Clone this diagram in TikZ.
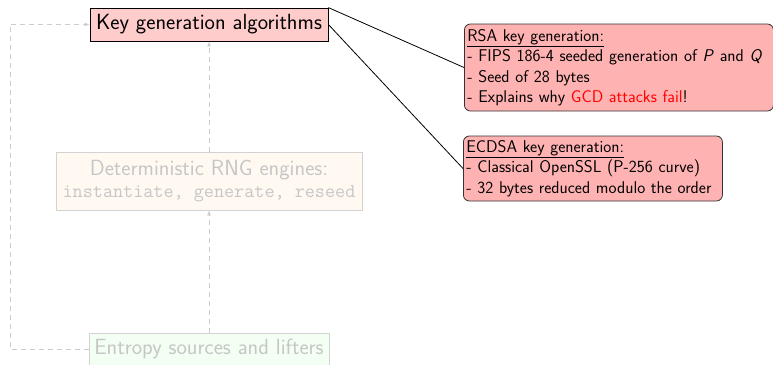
\documentclass[tikz,border=0pt]{standalone}
\usetikzlibrary{arrows.meta}
\begin{document}
\begin{tikzpicture}[x=1pt,y=1pt,
  font=\sffamily,
  bigfont/.style={font=\sffamily\fontsize{22}{25}\selectfont},
  smallfont/.style={font=\sffamily\fontsize{17}{20.5}\selectfont},
  keybox/.style={draw=black, fill=red!20, line width=0.8pt, bigfont, inner sep=0pt, minimum width=238, minimum height=33},
  infobox/.style={draw=black!80, fill=red!30, rounded corners=6pt, line width=0.8pt, smallfont, align=left, anchor=west, inner sep=3pt},
  fadedbox/.style={draw=gray!35, line width=0.8pt, text=gray!45, bigfont, inner sep=0pt},
  fadedarrow/.style={draw=gray!40, line width=0.8pt, dash pattern=on 5pt off 4pt, -{Latex[length=5pt,width=4pt]}},
  link/.style={draw=black, line width=0.8pt}]
\useasboundingbox (0,0) rectangle (773,-364);
\node[keybox] (kg) at (209,-24.5) {Key generation algorithms};
\node[infobox, text width=303, minimum height=87] (rsa) at (464,-67.5) {\underline{RSA key generation:}\\- FIPS 186-4 seeded generation of \textit{P} and \textit{Q}\\- Seed of 28 bytes\\- Explains why \textcolor{red}{GCD attacks fail}!};
\node[infobox, text width=253, minimum height=65] (ecdsa) at (463,-168.5) {\underline{ECDSA key generation:}\\- Classical OpenSSL (P-256 curve)\\- 32 bytes reduced modulo the order};
\node[fadedbox, fill=orange!5, minimum width=306, minimum height=58, align=center] (rng) at (209,-181) {Deterministic RNG engines:\\[-3pt]{\fontsize{19.6}{23}\selectfont\ttfamily instantiate, generate, reseed}};
\node[fadedbox, fill=green!5, minimum width=240, minimum height=33] (ent) at (209,-349.5) {Entropy sources and lifters};
\draw[link] (kg.north east) -- (rsa.west);
\draw[link] (kg.east) -- (ecdsa.west);
\draw[fadedarrow] (ent.north) -- (rng.south);
\draw[fadedarrow] (rng.north) -- (kg.south);
\coordinate (lc) at (10,-349.5);
\draw[fadedarrow] (ent.west) -- (lc) |- (kg.west);
\end{tikzpicture}
\end{document}
